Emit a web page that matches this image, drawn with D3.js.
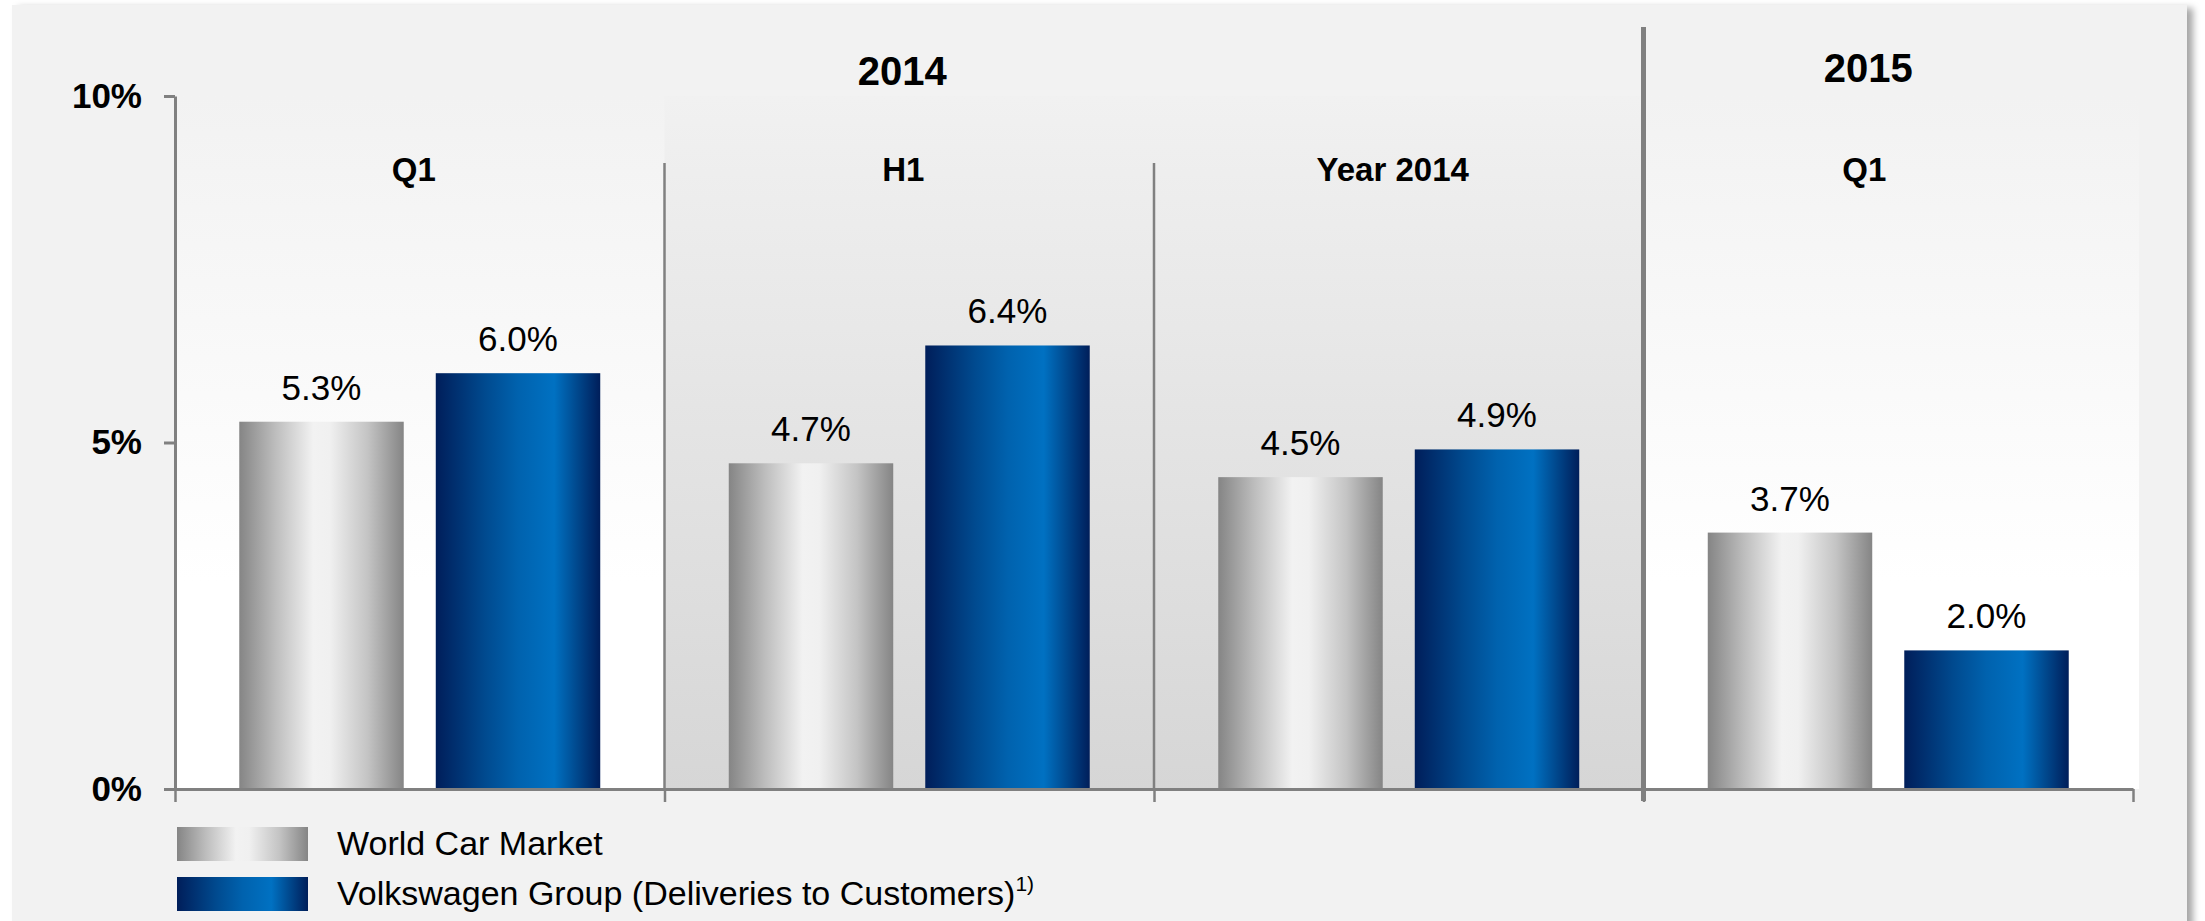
<!DOCTYPE html>
<html>
<head>
<meta charset="utf-8">
<script src="https://cdn.jsdelivr.net/npm/d3@7"></script>
<style>
  html, body { margin: 0; padding: 0; background: #ffffff; }
  svg { display: block; }
  text { font-family: "Liberation Sans", Arial, Helvetica, sans-serif; fill: #000; }
</style>
</head>
<body>
<svg id="chart" width="2205" height="921"></svg>
<script>
// Periods shown on the x axis
const periods = ["Q1 2014", "H1 2014", "FY 2014", "Q1 2015"];
const periodLabels = ["Q1", "H1", "Year 2014", "Q1"];
// Year headings and which periods they span
const yearLabels = ["2014", "2015"];
const yearSpans = [["Q1 2014", "FY 2014"], ["Q1 2015", "Q1 2015"]];
// Growth rates in %
const seriesKeys = ["world", "vw"];
const seriesNames = ["World Car Market", "Volkswagen Group (Deliveries to Customers)"];
const worldCarMarket = [5.3, 4.7, 4.5, 3.7];
const volkswagenGroup = [6.0, 6.4, 4.9, 2.0];
const yTicks = [0, 5, 10];

const svg = d3.select("#chart");
const W = 2205, H = 921;
const plot = { left: 175, right: 2133, top: 96, bottom: 789 };

const defs = svg.append("defs");

// Panel drop shadow
const shadow = defs.append("filter").attr("id", "shadow")
  .attr("x", "-2%").attr("y", "-2%").attr("width", "104%").attr("height", "106%");
shadow.append("feDropShadow").attr("dx", 6).attr("dy", 3)
  .attr("stdDeviation", 3.5).attr("flood-color", "#000").attr("flood-opacity", 0.35);

function linearGrad(id, stops, vertical) {
  const g = defs.append("linearGradient").attr("id", id)
    .attr("x1", 0).attr("y1", 0)
    .attr("x2", vertical ? 0 : 1).attr("y2", vertical ? 1 : 0);
  stops.forEach(([o, c]) => g.append("stop").attr("offset", o).attr("stop-color", c));
}
// Metallic gray and blue fills
linearGrad("gradWorld", [[0, "#858585"], [0.22, "#bdbdbd"], [0.45, "#f2f2f2"], [0.55, "#f0f0f0"], [0.78, "#c4c4c4"], [1, "#858585"]]);
linearGrad("gradVW", [[0, "#001e5a"], [0.3, "#004a8f"], [0.5, "#0062ae"], [0.72, "#0071c2"], [0.86, "#00488d"], [1, "#001e5a"]]);
// Plot backgrounds
linearGrad("gradPlot", [[0, "#f2f2f2"], [0.7, "#ffffff"], [1, "#ffffff"]], true);
linearGrad("gradShade", [[0, "#f1f1f1"], [1, "#d6d6d6"]], true);

const fills = { world: "url(#gradWorld)", vw: "url(#gradVW)" };

// Panel
svg.append("rect").attr("x", 12).attr("y", 5).attr("width", 2175).attr("height", H)
  .attr("fill", "#f2f2f2").attr("filter", "url(#shadow)");

// Scales
const x0 = d3.scaleBand().domain(periods).range([plot.left, plot.right]).padding(0);
const x1 = d3.scaleBand().domain(seriesKeys).range([0, x0.bandwidth()])
  .paddingInner(0.163).paddingOuter(0.327);
const y = d3.scaleLinear().domain([0, 10]).range([plot.bottom, plot.top]);

// Plot area backgrounds
svg.append("rect").attr("x", plot.left).attr("y", plot.top)
  .attr("width", plot.right - plot.left + 6).attr("height", plot.bottom - plot.top)
  .attr("fill", "url(#gradPlot)");
svg.append("rect").attr("x", x0("H1 2014")).attr("y", plot.top)
  .attr("width", x0("Q1 2015") - x0("H1 2014")).attr("height", plot.bottom - plot.top)
  .attr("fill", "url(#gradShade)");

// Bars
const data = periods.map((p, i) => ({ period: p, world: worldCarMarket[i], vw: volkswagenGroup[i] }));
const grp = svg.append("g").selectAll("g").data(data).join("g")
  .attr("transform", d => `translate(${x0(d.period)},0)`);
grp.selectAll("rect").data(d => seriesKeys.map(k => ({ key: k, value: d[k] }))).join("rect")
  .attr("x", d => x1(d.key)).attr("width", x1.bandwidth())
  .attr("y", d => y(d.value)).attr("height", d => y(0) - y(d.value))
  .attr("fill", d => fills[d.key]);
grp.selectAll("text.val").data(d => seriesKeys.map(k => ({ key: k, value: d[k] }))).join("text")
  .attr("class", "val")
  .attr("x", d => x1(d.key) + x1.bandwidth() / 2)
  .attr("y", d => y(d.value) - 22)
  .attr("text-anchor", "middle").attr("font-size", 35)
  .text(d => d.value.toFixed(1) + "%");

// Section dividers
const axisColor = "#808080";
[periods[1], periods[2]].forEach(p => {
  svg.append("line").attr("x1", x0(p)).attr("x2", x0(p))
    .attr("y1", 163).attr("y2", plot.bottom)
    .attr("stroke", axisColor).attr("stroke-width", 2.5);
});
svg.append("line").attr("x1", x0(periods[3])).attr("x2", x0(periods[3]))
  .attr("y1", 27).attr("y2", 801)
  .attr("stroke", axisColor).attr("stroke-width", 5);

// X axis: ticks at section boundaries
const xb = d3.scaleLinear().domain([0, periods.length]).range([plot.left, plot.right]);
const xAxis = svg.append("g").attr("transform", `translate(0,${plot.bottom})`)
  .call(d3.axisBottom(xb).tickValues(d3.range(periods.length + 1)).tickFormat("").tickSize(13).tickSizeOuter(0));
xAxis.select(".domain").attr("stroke", axisColor).attr("stroke-width", 3);
xAxis.selectAll(".tick line").attr("stroke", axisColor).attr("stroke-width", 2.5);

// Y axis
const yAxis = svg.append("g").attr("transform", `translate(${plot.left},0)`)
  .call(d3.axisLeft(y).tickValues(yTicks).tickFormat(d => d + "%").tickSize(11).tickSizeOuter(0).tickPadding(22));
yAxis.select(".domain").attr("stroke", axisColor).attr("stroke-width", 3);
yAxis.selectAll(".tick line").attr("stroke", axisColor).attr("stroke-width", 3);
yAxis.selectAll(".tick text").attr("font-size", 35).attr("font-weight", "bold")
  .attr("fill", "#000").attr("font-family", "'Liberation Sans', Arial, sans-serif");

// Period headings
svg.append("g").selectAll("text").data(periods).join("text")
  .attr("x", (p, i) => x0(p) + x0.bandwidth() / 2 - (i === 3 ? 24 : 6))
  .attr("y", 181).attr("text-anchor", "middle")
  .attr("font-size", 33).attr("font-weight", "bold")
  .text((p, i) => periodLabels[i]);

// Year headings
svg.append("g").selectAll("text").data(yearLabels).join("text")
  .attr("x", (t, i) => {
    const [a, b] = yearSpans[i];
    const c = (x0(a) + x0(b) + x0.bandwidth()) / 2;
    return c - (i === 1 ? 20 : 7);
  })
  .attr("y", (t, i) => i === 0 ? 85 : 82).attr("text-anchor", "middle")
  .attr("font-size", 40).attr("font-weight", "bold")
  .text(t => t);

// Legend
const legend = svg.append("g").attr("transform", "translate(177,827)");
const li = legend.selectAll("g").data(seriesKeys).join("g")
  .attr("transform", (d, i) => `translate(0,${i * 50})`);
li.append("rect").attr("width", 131).attr("height", 34).attr("fill", d => fills[d]);
const lt = li.append("text").attr("x", 160).attr("y", 28).attr("font-size", 34)
  .text((d, i) => seriesNames[i]);
lt.filter(d => d === "vw").append("tspan").attr("font-size", 21).attr("dy", -14).text("1)");
</script>
</body>
</html>
